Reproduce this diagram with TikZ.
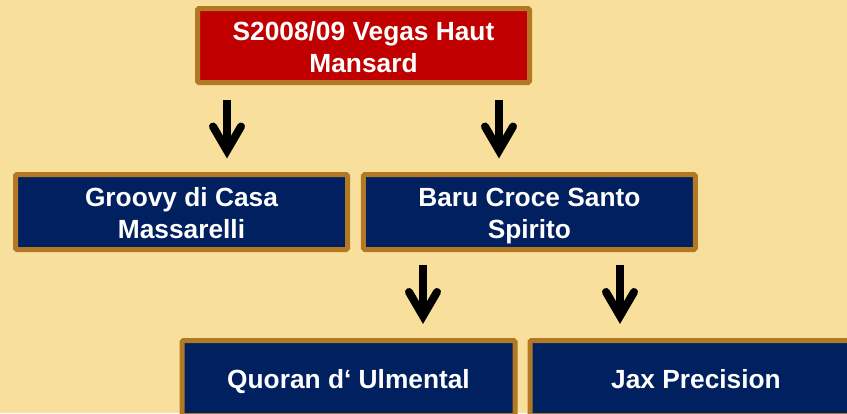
\documentclass[tikz,border=0pt]{standalone}
\usepackage{fontspec}
\setmainfont{Liberation Sans}
\definecolor{bgyellow}{RGB}{248,224,156}
\definecolor{boxred}{RGB}{192,0,0}
\definecolor{boxnavy}{RGB}{0,32,96}
\definecolor{boxrim}{RGB}{178,120,36}
% fixed line height so every box places its text the same way
\newcommand\lnstrut{\rule[-5pt]{0pt}{31pt}}
\tikzset{
  orgbox/.style={draw=boxrim, line width=5pt, rounded corners=1.5pt,
    minimum width=332pt, minimum height=75pt, inner sep=0pt,
    text=white, align=center,
    font=\fontsize{26.3}{32}\selectfont\bfseries},
  rootbox/.style={orgbox, fill=boxred, minimum height=74pt},
  childbox/.style={orgbox, fill=boxnavy},
  shaft/.style={line width=8pt, line cap=butt},
  barbs/.style={line width=8pt, line cap=round, line join=miter},
  downarrow/.pic={
    \draw[shaft] (0,0) -- (0,51);
    \draw[barbs] (-14,27) -- (0,51) -- (14,27);
  }
}
\begin{document}
\begin{tikzpicture}[x=1pt,y=-1pt]
  % canvas
  \fill[bgyellow] (0,0) rectangle (847,413);
  \useasboundingbox (0,0) rectangle (847,413);

  % boxes
  \node[rootbox]  (root)   at (363.5,45.5) {\lnstrut S2008/09 Vegas Haut\\\lnstrut Mansard};
  \node[childbox] (groovy) at (181.5,212)  {\lnstrut Groovy di Casa\\\lnstrut Massarelli};
  \node[childbox] (baru)   at (529.4,212)  {\lnstrut Baru Croce Santo\\\lnstrut Spirito};
  \node[childbox, minimum width=333pt] (quoran) at (348.5,378) {\lnstrut Quoran d‘ Ulmental};
  \node[childbox] (jax)    at (696,378)    {\lnstrut Jax Precision};

  % arrow anchors below the parent boxes
  \coordinate (r1) at ([yshift=-14.5pt]root.south -| 227,0);
  \coordinate (r2) at ([yshift=-14.5pt]root.south -| 499,0);
  \coordinate (b1) at ([yshift=-13pt]baru.south -| 423,0);
  \coordinate (b2) at ([yshift=-13pt]baru.south -| 620,0);

  % arrows
  \pic at (r1) {downarrow};
  \pic at (r2) {downarrow};
  \pic at (b1) {downarrow};
  \pic at (b2) {downarrow};
\end{tikzpicture}
\end{document}
